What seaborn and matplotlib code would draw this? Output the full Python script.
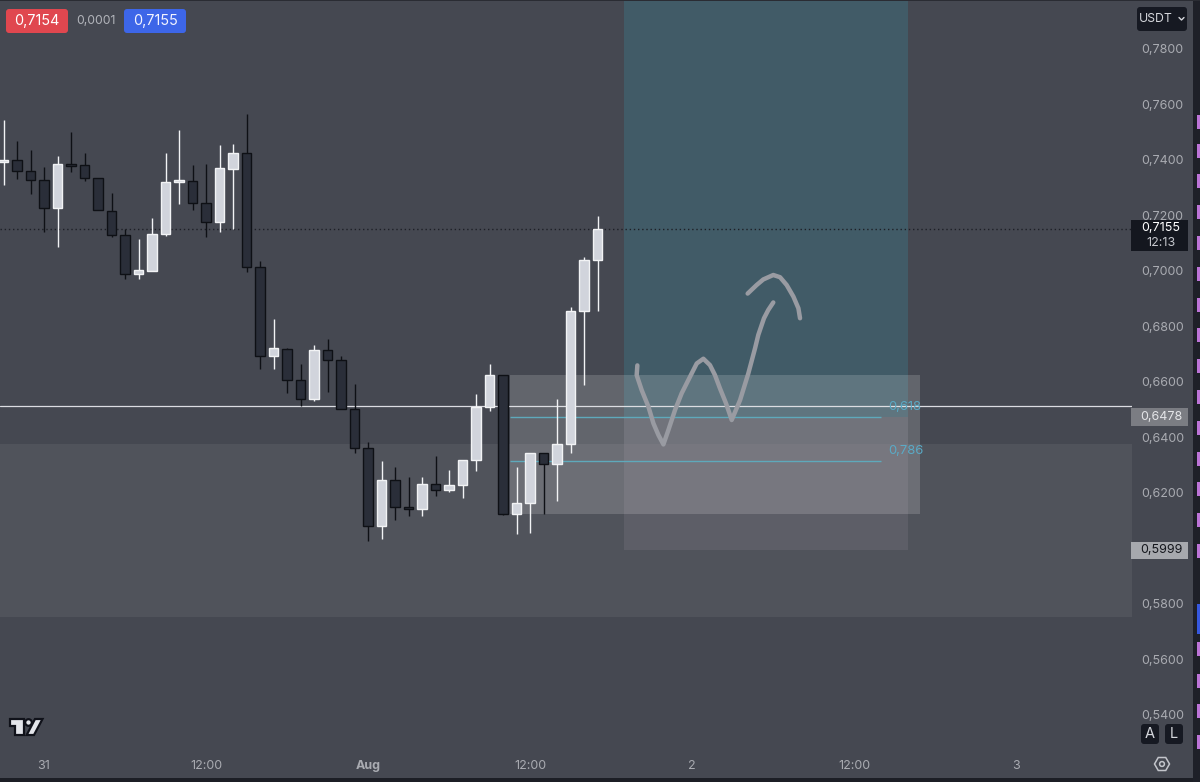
import matplotlib
matplotlib.use('Agg')
import matplotlib.pyplot as plt
from matplotlib.patches import Rectangle, FancyBboxPatch, Polygon, RegularPolygon, Circle
import numpy as np
import seaborn as sns

# hours from 1 Aug 00:00, one candle per hour
hours = np.arange(-27, 18)
opens = [0.7392, 0.7399, 0.7360, 0.7328, 0.7227, 0.7384, 0.7381, 0.7335, 0.7217, 0.7128, 0.6990, 0.7001, 0.7132,
         0.7321, 0.7323, 0.7244, 0.7177, 0.7368, 0.7424, 0.7014, 0.6694, 0.6719, 0.6605, 0.6539, 0.6716, 0.6679,
         0.6501, 0.6362, 0.6080, 0.6245, 0.6149, 0.6142, 0.6230, 0.6209, 0.6227, 0.6317, 0.6509, 0.6624, 0.6124,
         0.6164, 0.6342, 0.6304, 0.6374, 0.6855, 0.7038]
closes = [0.7400, 0.7360, 0.7329, 0.7228, 0.7384, 0.7379, 0.7336, 0.7218, 0.7129, 0.6990, 0.7002, 0.7132, 0.7319,
          0.7327, 0.7244, 0.7177, 0.7370, 0.7424, 0.7015, 0.6694, 0.6721, 0.6605, 0.6539, 0.6716, 0.6680, 0.6501,
          0.6362, 0.6080, 0.6245, 0.6149, 0.6142, 0.6230, 0.6210, 0.6227, 0.6317, 0.6509, 0.6624, 0.6124, 0.6164,
          0.6342, 0.6304, 0.6374, 0.6855, 0.7038, 0.7150]
highs = [0.7544, 0.7467, 0.7436, 0.7376, 0.7414, 0.7500, 0.7426, 0.7335, 0.7280, 0.7150, 0.7115, 0.7191, 0.7425,
         0.7507, 0.7382, 0.7385, 0.7455, 0.7457, 0.7564, 0.7035, 0.6826, 0.6723, 0.6664, 0.6734, 0.6753, 0.6693,
         0.6592, 0.6383, 0.6313, 0.6292, 0.6258, 0.6255, 0.6332, 0.6281, 0.6318, 0.6556, 0.6664, 0.6624, 0.6294,
         0.6342, 0.6342, 0.6539, 0.6871, 0.7049, 0.7198]
lows = [0.7311, 0.7330, 0.7277, 0.7141, 0.7086, 0.7358, 0.7325, 0.7218, 0.7121, 0.6970, 0.6972, 0.6999, 0.7126,
        0.7241, 0.7219, 0.7121, 0.7141, 0.7150, 0.6997, 0.6645, 0.6646, 0.6558, 0.6514, 0.6530, 0.6563, 0.6501,
        0.6342, 0.6025, 0.6034, 0.6102, 0.6117, 0.6116, 0.6188, 0.6204, 0.6182, 0.6279, 0.6496, 0.6118, 0.6051,
        0.6053, 0.6123, 0.6170, 0.6342, 0.6588, 0.6856]

price_ticks = [0.78, 0.76, 0.74, 0.72, 0.70, 0.68, 0.66, 0.64, 0.62, 0.60, 0.58, 0.56, 0.54]
time_ticks = [-24, -12, 0, 12, 24, 36, 48]
time_labels = ['31', '12:00', 'Aug', '12:00', '2', '12:00', '3']

# drawn objects on the chart
last_price = 0.7150
level_price = 0.6514
band_top, band_bottom = 0.6376, 0.5752
target_left, target_right = 18.96, 40.0
target_top, target_mid, target_bottom = 0.7977, 0.6473, 0.5993
fib_box_left, fib_box_right = 10.52, 40.89
fib_box_top, fib_box_bottom = 0.6624, 0.6124
fib_levels = [0.6473, 0.6314]
fib_names = ['0,618', '0,786']
fib_line_end = 38.0

sketch_hours = [19.95, 19.90, 20.27, 20.77, 21.14, 21.51, 21.88, 22.25, 22.74, 23.23, 23.85, 24.35, 24.84, 25.33,
                25.70, 26.07, 26.52, 26.94, 27.56, 28.17, 28.67, 28.91, 29.33, 29.65, 30.02]
sketch_prices = [0.6659, 0.6624, 0.6570, 0.6510, 0.6450, 0.6408, 0.6374, 0.6426, 0.6498, 0.6558, 0.6618, 0.6666,
                 0.6683, 0.6660, 0.6624, 0.6576, 0.6522, 0.6462, 0.6534, 0.6630, 0.6721, 0.6769, 0.6829, 0.6859,
                 0.6886]
arc_hours = [28.12, 28.79, 29.28, 30.02, 30.52, 31.01, 31.51, 31.88, 32.00]
arc_prices = [0.6918, 0.6949, 0.6969, 0.6985, 0.6977, 0.6949, 0.6907, 0.6865, 0.6829]

BG = '#454851'
UI_FONT = ['Inter', 'DejaVu Sans']

sns.set_theme(style='dark', rc={'axes.facecolor': BG, 'figure.facecolor': BG})
plt.rcParams['font.family'] = UI_FONT

fig = plt.figure(figsize=(12, 7.82), dpi=100)
ax = fig.add_axes([0, 32 / 782, 1132 / 1200, 750 / 782])
ax.set_xlim(-27.26, 56.59)
ax.set_ylim(0.5272, 0.79767)
for s in ax.spines.values():
    s.set_visible(False)

# zones
ax.axhspan(band_bottom, band_top, color='#50535b', lw=0, zorder=1)
ax.add_patch(Rectangle((target_left, target_mid), target_right - target_left, target_top - target_mid,
                       fc='#415b67', ec='none', zorder=2))
ax.add_patch(Rectangle((target_left, target_bottom), target_right - target_left, target_mid - target_bottom,
                       fc='#6a6a73', ec='none', alpha=0.5, zorder=2))
ax.add_patch(Rectangle((fib_box_left, fib_box_bottom), fib_box_right - fib_box_left, fib_box_top - fib_box_bottom,
                       fc='#ffffff', ec='none', alpha=0.16, zorder=3))

# levels
ax.axhline(level_price, color='#dcdde2', lw=0.9, zorder=4)
ax.axhline(last_price, color='#1d1f26', lw=1, ls=(0, (1, 2)), zorder=4)
for lvl, name in zip(fib_levels, fib_names):
    ax.hlines(lvl, fib_box_left, fib_line_end, color='#5ea9bb', lw=1, zorder=4)
    ax.text(fib_line_end + 0.55, lvl + 0.0037, name, color='#5aaac6', fontsize=9.4, va='center', ha='left', zorder=4)

# candles
up = np.array(closes) >= np.array(opens)
for mask, face, edge in [(up, '#d1d4dc', '#f2f3f5'), (~up, '#2a2e39', '#0e1015')]:
    ax.vlines(hours[mask], np.array(lows)[mask], np.array(highs)[mask], color=edge, lw=1.0, zorder=5)
    tops = np.maximum(opens, closes)[mask]
    bottoms = np.minimum(opens, closes)[mask]
    ax.bar(hours[mask], tops - bottoms, bottom=bottoms, width=0.7, color=face, edgecolor=edge, lw=1.0, zorder=6)

# hand drawn path
for xs, ys in [(sketch_hours, sketch_prices), (arc_hours, arc_prices)]:
    sns.lineplot(x=xs, y=ys, sort=False, estimator=None, color='#999ba2', lw=3.2, ax=ax, zorder=7,
                 solid_capstyle='round', solid_joinstyle='round')

# axes; the 0,6000 label is hidden behind the 0,5999 tag in the reference
ax.yaxis.tick_right()
ax.set_yticks(price_ticks)
ax.set_yticklabels(['' if p == 0.60 else f'{p:.4f}'.replace('.', ',') for p in price_ticks],
                   color='#a9abb1', fontsize=9)
ax.set_xticks(time_ticks)
ax.set_xticklabels(time_labels, color='#a9abb1', fontsize=9)
ax.get_xticklabels()[2].set_fontweight('bold')
ax.tick_params(axis='y', length=0, pad=6.5)
ax.tick_params(axis='x', length=0, pad=7.5)
ax.grid(False)

# interface parts in pixel coordinates
ui = fig.add_axes([0, 0, 1, 1], zorder=10)
ui.set_xlim(0, 1200)
ui.set_ylim(782, 0)
ui.axis('off')
ui.patch.set_alpha(0)


def box(x0, y0, w, h, color, r=3):
    ui.add_patch(FancyBboxPatch((x0 + r, y0 + r), w - 2 * r, h - 2 * r, boxstyle=f'round,pad={r}',
                                fc=color, ec='none'))


ui.add_patch(Rectangle((0, 778), 1200, 4, fc='#1c1e25', ec='none'))
ui.add_patch(Rectangle((1193, 0), 7, 782, fc='#1e2028', ec='none'))
ui.add_patch(Rectangle((0, 0), 1200, 1, fc='#2a2c33', ec='none'))
for y0 in [115, 144, 174, 205, 236, 267, 298, 328, 359, 390, 421, 452, 482, 513, 544, 642, 674, 704, 735]:
    ui.add_patch(Rectangle((1196.8, y0), 3.2, 13.5, fc='#bd74d8', ec='none'))
ui.add_patch(Rectangle((1196.8, 604), 3.2, 30, fc='#3658e0', ec='none'))

box(6, 9, 62, 24, '#e0474f')
ui.text(37, 21.5, '0,7154', color='white', fontsize=10.4, ha='center', va='center')
ui.text(96, 21.5, '0,0001', color='#b2b4ba', fontsize=8.8, ha='center', va='center')
box(124, 9, 62, 24, '#3d66e8')
ui.text(155, 21.5, '0,7155', color='#f2f4ff', fontsize=10.4, ha='center', va='center')

box(1137, 7, 50, 24, '#161922')
ui.text(1156, 19, 'USDT', color='#d5d7dc', fontsize=8.8, ha='center', va='center')
ui.plot([1179, 1181.5, 1184], [17.5, 20, 17.5], color='#d5d7dc', lw=1)

ui.add_patch(Rectangle((1131, 220), 57, 31, fc='#14171f', ec='none'))
ui.text(1161, 228, '0,7155', color='white', fontsize=9, ha='center', va='center')
ui.text(1161, 243, '12:13', color='#c4c6cc', fontsize=9, ha='center', va='center')

ui.add_patch(Rectangle((1131, 408), 57, 18, fc='#7b7d83', ec='none'))
ui.text(1161, 417, '0,6478', color='#e4e5e8', fontsize=9, ha='center', va='center')
ui.add_patch(Rectangle((1131, 541.5), 57, 17, fc='#a7a9ae', ec='none'))
ui.text(1161, 550, '0,5999', color='#15171d', fontsize=9, ha='center', va='center')

box(1141, 724, 18, 20, '#161922')
ui.text(1150, 734, 'A', color='#d5d7dc', fontsize=10.5, ha='center', va='center')
box(1165, 724, 18, 20, '#161922')
ui.text(1174, 734, 'L', color='#d5d7dc', fontsize=10.5, ha='center', va='center')
ui.add_patch(RegularPolygon((1162, 764), 6, radius=7.5, orientation=np.pi / 2, fc='none', ec='#c3c5cb', lw=1.1))
ui.add_patch(Circle((1162, 764), 2.4, fc='none', ec='#c3c5cb', lw=1.1))

# logo
LOGO_DARK = '#10121a'
ui.add_patch(Polygon([(9.5, 719), (23.5, 719), (23.5, 735), (15, 735), (15, 726), (9.5, 726)],
                     fc='#e3e5ea', ec=LOGO_DARK, lw=1.6))
ui.add_patch(Circle((28.5, 722.5), 3.3, fc='#e3e5ea', ec=LOGO_DARK, lw=1.6))
ui.add_patch(Polygon([(35, 719), (42.5, 719), (34, 735), (26.7, 735)], fc='#e3e5ea', ec=LOGO_DARK, lw=1.6))

fig.savefig('out.png', dpi=100)
